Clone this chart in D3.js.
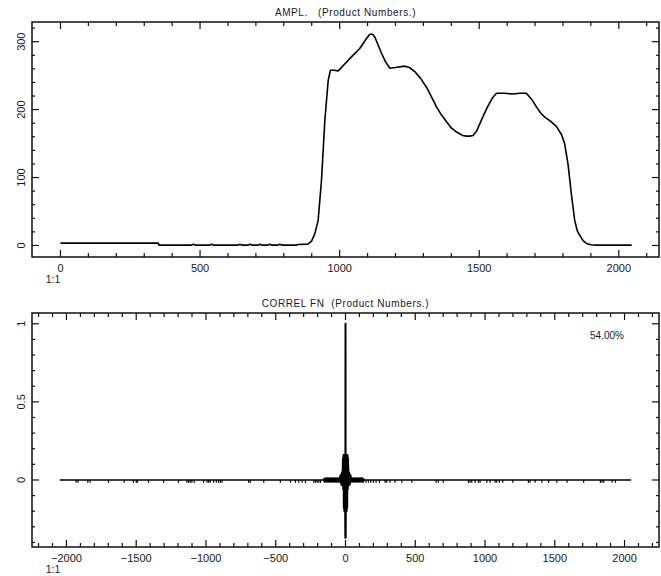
<!DOCTYPE html>
<html><head><meta charset="utf-8">
<script src="https://cdn.jsdelivr.net/npm/d3@7"></script>
<style>
body{margin:0;background:#fff}
svg{display:block}
text{font-family:"Liberation Sans",Arial,sans-serif;fill:#1a1a1a;white-space:pre}
</style>
</head><body>
<svg id="c" width="661" height="576"></svg>
<script>
// ---------- DATA ----------
const amplTitle = "AMPL.   (Product Numbers.)";
const corrTitle = "CORREL FN  (Product Numbers.)";
const scaleLabel = "1:1";
const corrPercent = "54.00%";

const amplX = [0,350,353,470,476,482,535,541,547,637,643,649,673,679,685,708,714,720,744,750,756,780,786,792,846,850,886,899,911,923,935,947,959,967,980,995,1020,1043,1072,1095,1108,1118,1126,1150,1165,1180,1200,1233,1250,1269,1290,1311,1330,1347,1365,1383,1400,1419,1440,1454,1466,1478,1490,1502,1517,1532,1547,1562,1590,1621,1645,1669,1688,1705,1720,1735,1755,1777,1795,1806,1818,1830,1842,1851,1860,1872,1884,1900,1920,2046];
const amplY = [3.5,3.5,0.5,0.5,2,0.5,0.5,2,0.5,0.5,2,0.5,0.5,2,0.5,0.5,2,0.5,0.5,2,0.5,0.5,2,0.5,0.5,1.5,2,6,17,37,96,184,243,258,258,257,268,278,290,304,311,311,307,283,270,261,262,264,262,256,246,233,218,204,192,182,173,167,162,161,161,162,168,179,193,206,217,224,224,223,224,224,215,204,195,189,183,175,163,150,120,76,37,22,15,7,3,1,0.5,0.5];

const amplXTicks = [0,500,1000,1500,2000];
const amplYTicks = [0,100,200,300];

// correlation function: baseline extent, small noise marks, central lobe
const corrExtent = [-2047, 2047];
const corrMarkLags = [-1931,-1917,-1847,-1831,-1699,-1586,-1520,-1500,-1491,-1412,-1304,-1197,-1137,-1125,-1113,-1101,-1084,-1017,-993,-981,-969,-945,-926,-910,-897,-885,-694,-682,-586,-467,-395,-359,-335,-311,-287,-227,-215,-203,-191,-179,
  147,164,181,200,219,243,283,295,319,355,403,475,649,665,701,881,893,905,929,953,965,1013,1036,1072,1084,1103,1127,1199,1311,1323,1359,1407,1456,1515,1588,1707,1827,1839,1851,1911,1935];
const corrMarkVals = corrMarkLags.map(()=>-0.018);
const corrCenterLags = [-156,-150,-144,-138,-132,-126,-120,-114,-108,-102,-96,-90,-84,-78,-72,-66,-60,-54,-48,-42,-36,-30,-26,-22,-18,-16,-14,-12,-10,-8,-6,-4,-3,-2,-1,0,1,2,3,4,6,8,10,12,14,16,18,22,26,30,36,42,48,54,60,66,72,78,84,90,96,102,108,114,120,126,131];
const corrCenterVals = [0.011,-0.011,0.011,-0.011,0.011,-0.011,0.011,-0.011,0.011,-0.011,0.011,-0.011,0.011,-0.011,0.011,-0.011,0.011,-0.011,0.011,-0.011,0.03,-0.03,0.05,-0.035,0.14,-0.06,0.16,-0.18,0.16,-0.2,0.15,-0.19,0.16,-0.25,-0.37,1.0,-0.37,-0.25,0.16,-0.19,0.15,-0.2,0.16,-0.18,0.16,-0.06,0.14,-0.035,0.05,-0.03,0.03,-0.011,0.011,-0.011,0.011,-0.011,0.011,-0.011,0.011,-0.011,0.011,-0.011,0.011,-0.011,0.011,-0.011,0.011];

const corrXTicks = [-2000,-1500,-1000,-500,0,500,1000,1500,2000];
const corrYTicks = [0,0.5,1];
const corrYTickLabels = ["0","0.5","1"];

// ---------- DRAW ----------
const svg = d3.select("#c");
const L = 32, R = 659;

function panel(cfg){
  const g = svg.append("g");
  const x = d3.scaleLinear().domain(cfg.xd).range([L,R]);
  const y = d3.scaleLinear().domain(cfg.yd).range([cfg.bottom,cfg.top]);
  const tk = g.append("g").attr("stroke","#111").attr("stroke-width",1.2);
  cfg.xMinor.forEach(v=>{
    const len = cfg.xMajor.some(m=>Math.abs(m-v)<1e-6) ? 7 : 4;
    tk.append("line").attr("x1",x(v)).attr("x2",x(v)).attr("y1",cfg.bottom).attr("y2",cfg.bottom-len);
    tk.append("line").attr("x1",x(v)).attr("x2",x(v)).attr("y1",cfg.top).attr("y2",cfg.top+len);
  });
  cfg.yMinor.forEach(v=>{
    const len = cfg.yMajor.some(m=>Math.abs(m-v)<1e-6) ? 7 : 3;
    tk.append("line").attr("y1",y(v)).attr("y2",y(v)).attr("x1",L).attr("x2",L+len);
    tk.append("line").attr("y1",y(v)).attr("y2",y(v)).attr("x1",R).attr("x2",R-len);
  });
  g.append("rect").attr("x",L).attr("y",cfg.top).attr("width",R-L).attr("height",cfg.bottom-cfg.top)
    .attr("fill","none").attr("stroke","#111").attr("stroke-width",1.5);
  g.selectAll(".xl").data(cfg.xMajor).enter().append("text")
    .attr("x",d=>x(d)).attr("y",cfg.bottom+15).attr("text-anchor","middle")
    .attr("font-size",11).text(d=>d===0?"0":(d<0?"\u2212"+Math.abs(d):d));
  g.selectAll(".yl").data(cfg.yMajor).enter().append("text")
    .attr("transform",d=>`translate(21,${y(d)}) rotate(-90)`).attr("text-anchor","middle")
    .attr("dy","0.35em").attr("font-size",11).text((d,i)=>cfg.yLabels[i]);
  g.append("text").attr("x",53).attr("y",cfg.bottom+26).attr("text-anchor","middle").attr("font-size",10.5).text(scaleLabel);
  g.append("text").attr("x",(L+R)/2).attr("y",cfg.top-6).attr("text-anchor","middle")
    .attr("font-size",10).attr("letter-spacing",0.6).text(cfg.title);
  return {g,x,y};
}

const p1 = panel({
  xd:[-102,2144], yd:[-17,329], top:22, bottom:257,
  xMinor:d3.range(0,2101,100), xMajor:amplXTicks,
  yMinor:d3.range(0,321,20), yMajor:amplYTicks, yLabels:amplYTicks.map(String),
  title:amplTitle
});
const amplData = amplX.map((v,i)=>[v,amplY[i]]);
p1.g.append("path").datum(amplData)
  .attr("d",d3.line().x(d=>p1.x(d[0])).y(d=>p1.y(d[1])))
  .attr("fill","none").attr("stroke","#000").attr("stroke-width",1.6).attr("stroke-linejoin","round");

const p2 = panel({
  xd:[-2247,2247], yd:[-0.429,1.069], top:313, bottom:547,
  xMinor:d3.range(-2200,2201,100), xMajor:corrXTicks,
  yMinor:d3.range(-4,11,1).map(v=>v/10), yMajor:corrYTicks, yLabels:corrYTickLabels,
  title:corrTitle
});
p2.g.append("line").attr("x1",p2.x(corrExtent[0])).attr("x2",p2.x(corrExtent[1]))
  .attr("y1",p2.y(0)).attr("y2",p2.y(0)).attr("stroke","#000").attr("stroke-width",1.5);
p2.g.selectAll(".mk").data(corrMarkLags).enter().append("line")
  .attr("x1",d=>p2.x(d)).attr("x2",d=>p2.x(d))
  .attr("y1",p2.y(0)).attr("y2",(d,i)=>p2.y(corrMarkVals[i]))
  .attr("stroke","#000").attr("stroke-width",1.2);
const centerData = corrCenterLags.map((v,i)=>[v,corrCenterVals[i]]);
p2.g.append("path").datum(centerData)
  .attr("d",d3.line().x(d=>p2.x(d[0])).y(d=>p2.y(d[1])))
  .attr("fill","none").attr("stroke","#000").attr("stroke-width",2).attr("stroke-linejoin","round");
p2.g.append("text").attr("x",607).attr("y",339).attr("text-anchor","middle").attr("font-size",10).text(corrPercent);
</script>
</body></html>
